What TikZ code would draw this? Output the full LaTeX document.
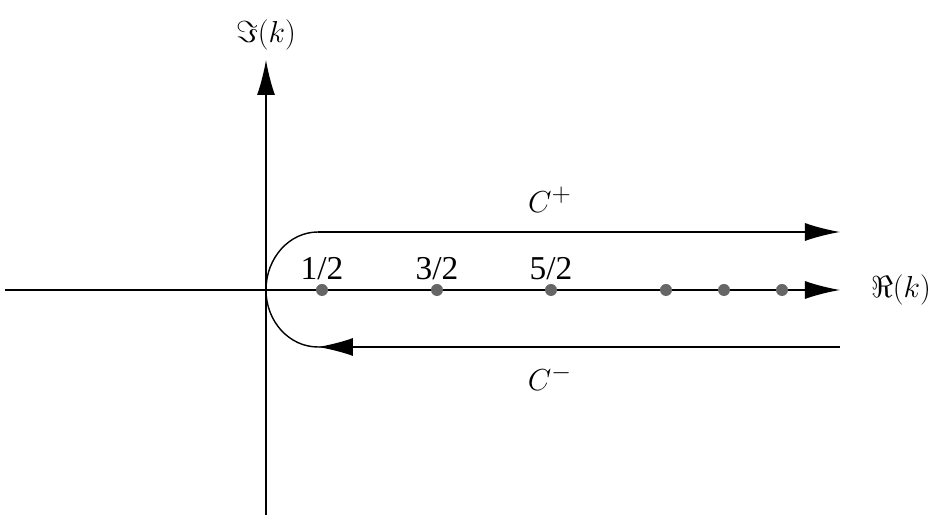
\documentclass[tikz,border=0pt]{standalone}
\usepackage{fontspec}
\setmainfont{Liberation Serif}
\usetikzlibrary{arrows.meta}
\begin{document}
\begin{tikzpicture}[>={Latex[length=0.7cm,width=0.36cm]},thick,
  pole/.style={circle,fill=black!60,inner sep=0pt,minimum size=0.24cm},
  lab/.style={font=\fontsize{19}{22}\selectfont}]
 \useasboundingbox (-5.32,-4.6) rectangle (13.4,5.8);

 \coordinate (o) at (0,0);
 \coordinate (xl) at (-5.22,0);
 \coordinate (xr) at (11.48,0);
 \coordinate (yb) at (0,-4.5);
 \coordinate (yt) at (0,4.6);
 \coordinate (up) at (1.04,1.16);
 \coordinate (upr) at (11.48,1.16);
 \coordinate (dn) at (1.04,-1.14);
 \coordinate (dnr) at (11.48,-1.14);

 \draw[->] (xl) -- (xr);
 \draw[->] (yb) -- (yt);
 \node[lab] (re) at (12.7,0) {$\Re(k)$};
 \node[lab] (im) at (0,5.1) {$\Im(k)$};

 \foreach \x/\t in {1.12/1\slash 2,3.42/3\slash 2,5.7/5\slash 2}
   \node[pole,label={[lab,yshift=-2pt]above:\t}] at (\x,0) {};
 \foreach \x in {8.0,9.16,10.32}
   \node[pole] at (\x,0) {};

 % contour
 \draw (o) arc[start angle=180,end angle=90,x radius=1.04,y radius=1.16];
 \draw[->] (up) -- (upr);
 \draw (o) arc[start angle=180,end angle=270,x radius=1.04,y radius=1.14] -- (dnr);
 \draw[->] (dnr) -- (dn);
 \node[lab] (cp) at (5.68,1.8) {$C^{+}$};
 \node[lab] (cm) at (5.68,-1.76) {$C^{-}$};
\end{tikzpicture}
\end{document}
